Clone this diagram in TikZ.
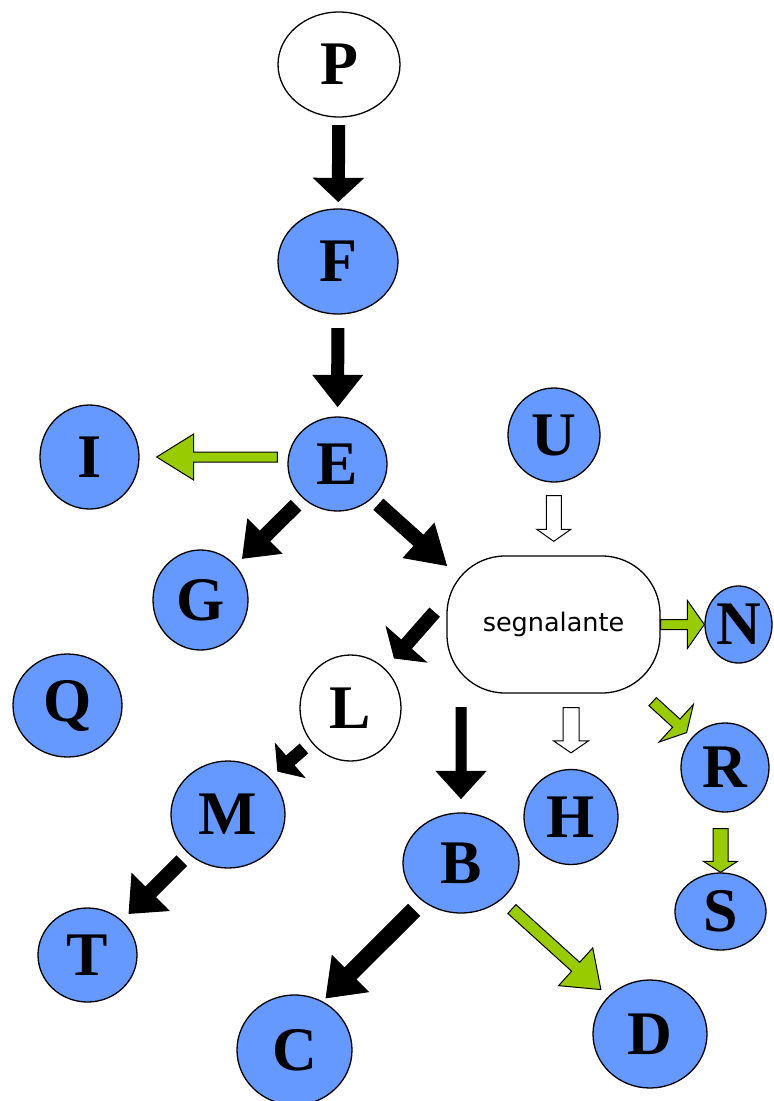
\documentclass[tikz,border=0pt]{standalone}
\usepackage{fontspec}
\setmainfont{Liberation Serif}
\newfontfamily\boxfont{DejaVu Sans}
\usetikzlibrary{shapes.geometric,calc}

\definecolor{cellblue}{HTML}{6699FF}
\definecolor{leafgreen}{HTML}{99CC00}

\tikzset{
  awidth/.store in=\aw, hwidth/.store in=\hw, hlen/.store in=\hl, acol/.store in=\ac,
  awidth=6pt, hwidth=24pt, hlen=24pt, acol=black,
  blob/.style={ellipse, draw, line width=1.3pt, fill=cellblue, inner sep=0pt,
    font=\fontsize{62}{62}\selectfont\bfseries},
  hollow/.style={blob, fill=white},
  size/.style 2 args={minimum width=#1pt, minimum height=#2pt}
}

% block arrow between two nodes (or points), with gaps at both ends
\newcommand{\flow}[5][]{%
  \begin{scope}[#1]
    \path (#2) -- (#3) coordinate[pos=0] (f0) coordinate[pos=1] (f1);
    \path ($(f0)!#4!(f1)$) coordinate (fa) ($(f1)!#5!(f0)$) coordinate (fb);
    \path ($(fb)!\hl!(fa)$) coordinate (fh);
    \draw[fill=\ac, line width=1pt, line join=miter]
      ($(fa)!\aw!90:(fb)$) -- ($(fh)!\aw!90:(fb)$) -- ($(fh)!\hw!90:(fb)$) -- (fb)
      -- ($(fh)!\hw!-90:(fb)$) -- ($(fh)!\aw!-90:(fb)$) -- ($(fa)!\aw!-90:(fb)$) -- cycle;
  \end{scope}}

\begin{document}
\begin{tikzpicture}[x=1pt,y=-1pt]
  \useasboundingbox (0,0) rectangle (774,1101);

  \node[hollow, size={122}{105}] (P) at (339,64.5)   {P};
  \node[blob,   size={120}{105}] (F) at (338,261.5)  {F};
  \node[blob,   size={99}{94}]   (E) at (337.5,464)  {E};
  \node[blob,   size={99}{104}]  (I) at (89.5,457)   {I};
  \node[blob,   size={95}{100}]  (G) at (200.5,600)  {G};
  \node[blob,   size={92}{94}]   (U) at (554,435)    {U};
  \node[draw, line width=1.3pt, rounded corners=58pt, minimum width=213pt,
        minimum height=137pt, font=\boxfont\fontsize{25.5}{26}\selectfont]
                                 (seg) at (553.5,624.5) {segnalante};
  \node[blob,   size={67}{77}]   (N) at (738.5,624.5) {N};
  \node[blob,   size={109}{103}] (Q) at (67.5,705.5) {Q};
  \node[hollow, size={101}{106}] (L) at (350.5,708)  {L};
  \node[blob,   size={88}{89}]   (R) at (725,767.5)  {R};
  \node[blob,   size={114}{107}] (M) at (228,814.5)  {M};
  \node[blob,   size={94}{95}]   (H) at (571,817)    {H};
  \node[blob,   size={116}{100}] (B) at (461,863)    {B};
  \node[blob,   size={91}{77}]   (S) at (720.5,911.5) {S};
  \node[blob,   size={99}{94}]   (T) at (87.5,955)   {T};
  \node[blob,   size={115}{110}] (C) at (294.5,1050) {C};
  \node[blob,   size={114}{108}] (D) at (650,1034)   {D};

  \flow[awidth=6pt, hwidth=24.5pt, hlen=23pt]{P}{F}{8pt}{7pt}
  \flow[awidth=6pt, hwidth=24.5pt, hlen=31pt]{F}{E}{14pt}{10pt}
  \flow[acol=leafgreen, awidth=5pt, hwidth=23pt, hlen=37pt]{E.west |- I}{I}{10pt}{17pt}
  \flow[awidth=7pt, hwidth=24pt, hlen=31pt]{E}{G}{10pt}{10pt}
  \flow[awidth=7pt, hwidth=23pt, hlen=37pt]{E.-45}{$(seg.north west)+(0,10)$}{9pt}{0pt}
  \flow[acol=white, awidth=7.5pt, hwidth=17pt, hlen=12pt]{U}{seg}{13pt}{14pt}
  \flow[acol=leafgreen, awidth=5pt, hwidth=24pt, hlen=17pt]{seg}{N}{0pt}{0pt}
  \flow[acol=leafgreen, awidth=5.5pt, hwidth=25.5pt, hlen=14pt]{$(seg.south east)+(-8,8)$}{R}{0pt}{7pt}
  \flow[acol=leafgreen, awidth=7.5pt, hwidth=17pt, hlen=11pt]{R.south -| S}{S}{16pt}{0pt}
  \flow[awidth=6.5pt, hwidth=26.5pt, hlen=18pt]{$(seg.west)+(-12,-12)$}{L}{0pt}{14pt}
  \flow[awidth=6pt, hwidth=22pt, hlen=16pt]{L}{M}{10pt}{10pt}
  \flow[awidth=7pt, hwidth=26pt, hlen=30pt]{M}{T}{10pt}{10pt}
  \flow[awidth=5pt, hwidth=24.5pt, hlen=27pt]{seg.south -| B}{B}{14pt}{14pt}
  \flow[acol=white, awidth=8pt, hwidth=17.5pt, hlen=12pt]{seg.south -| H}{H}{14pt}{16pt}
  \flow[awidth=8pt, hwidth=25.5pt, hlen=34pt]{B.-135}{C.60}{12.5pt}{5pt}
  \flow[acol=leafgreen, awidth=6pt, hwidth=25.5pt, hlen=34pt]{B}{D}{14pt}{10pt}
\end{tikzpicture}
\end{document}
